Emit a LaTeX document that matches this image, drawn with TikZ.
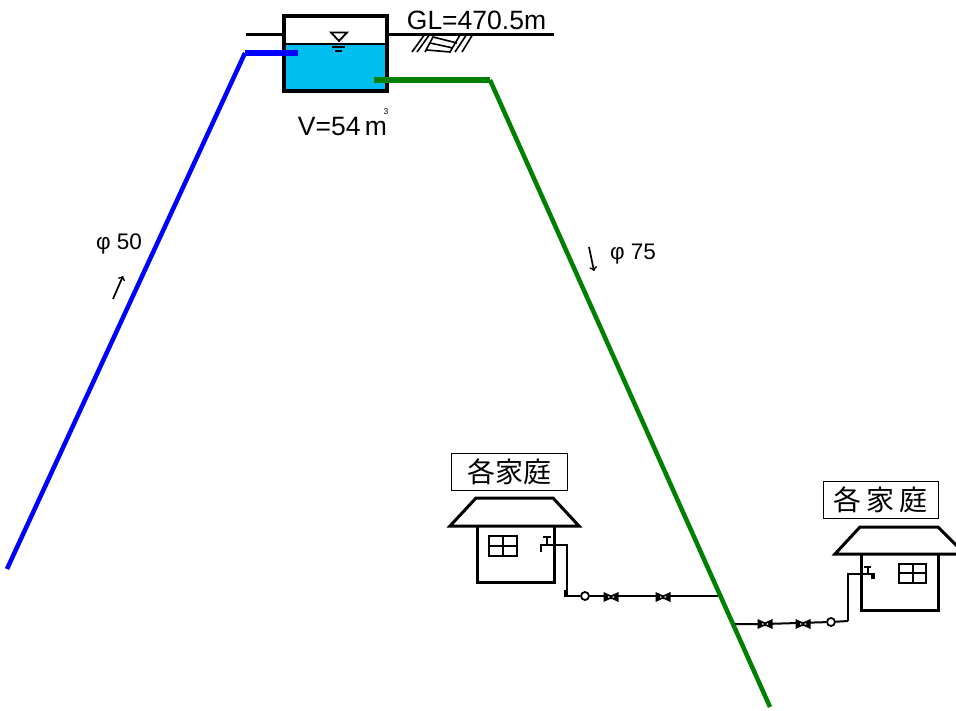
\documentclass[tikz,border=0pt]{standalone}
\usepackage{fontspec}
\setmainfont{Liberation Sans}
\newfontfamily\cjkfont{Noto Sans CJK JP}
\definecolor{agua}{HTML}{00BFF0}
\definecolor{tuboverde}{HTML}{008000}
\tikzset{
  muro/.style={draw, line width=3pt},
  tubo/.style={draw, line width=2.6pt},
  linea/.style={draw, line width=2pt},
  tuboazul/.style={draw=blue, line width=4.5pt},
  tuboazulh/.style={draw=blue, line width=6pt},
  tubov/.style={draw=tuboverde, line width=4.5pt},
  tubovh/.style={draw=tuboverde, line width=6pt},
  rotulo/.style={draw, line width=1pt, font=\cjkfont\fontsize{28}{28}\selectfont, inner sep=0pt},
  flecha/.style={draw, line width=1.7pt, -to},
  cota/.style={inner sep=0pt, font=\fontsize{26.5}{26.5}\selectfont},
  diam/.style={inner sep=0pt, font=\fontsize{22.5}{22.5}\selectfont},
  medidor/.style={circle, draw, line width=1.8pt, fill=white, inner sep=0pt, minimum size=8pt},
  valvula/.pic={\fill (-7.5,-5) -- (-1,-2) -- (1,-2) -- (7.5,-5) -- (7.5,5) -- (1,2) -- (-1,2) -- (-7.5,5) -- cycle;
    \fill[white] (-3,-0.8) -- (-0.8,0) -- (-3,0.8) -- cycle (3,-0.8) -- (0.8,0) -- (3,0.8) -- cycle;},
}
\begin{document}
\begin{tikzpicture}[x=1pt,y=-1pt]
  \useasboundingbox (0,0) rectangle (956,711);
  % tanque
  \fill[agua] (284,44) rectangle (387,91);
  \draw[muro] (246,35) -- (284,35) (387,35) -- (554,35);
  \draw[line width=1.6pt] (412,52) -- (425,34) (417,52) -- (430,34) (425,52) -- (433,37) -- (457,43)
    (430,43) -- (453,48) (427,50) -- (450,52) -- (460,35) (455,52) -- (467,34) (462,52) -- (473,34);
  \draw[line width=2.5pt] (284,44) -- (387,44);
  \draw[muro,line width=3.5pt] (284,16) rectangle (387,91);
  \draw[line width=1.8pt] (331,32.5) -- (347,32.5) -- (339,41) -- cycle;
  \draw[line width=2pt] (332,47) -- (345,47) (335,51) -- (342,51);
  \node[cota] (gl) at (476.5,20) {GL=470.5m};
  \node[cota] (vol) at (342.5,127) {V=54\,m};
  \node[inner sep=0pt, font=\fontsize{8.5}{8.5}\selectfont] (cubo) at (386,111.5) {3};
  % tuberias
  \coordinate (a0) at (7,569);
  \coordinate (a1) at (245,53);
  \coordinate (a2) at (298,53);
  \coordinate (v0) at (374,80);
  \coordinate (v1) at (490,80);
  \coordinate (v2) at (770,707);
  \draw[tuboazul] (a0) -- (a1);
  \draw[tuboazulh] (a1) -- (a2);
  \draw[tubov] (v1) -- (v2);
  \draw[tubovh] (v0) -- (v1);
  \node[diam] (d50) at (119,244) {φ 50};
  \node[diam] (d75) at (633,254) {φ 75};
  \draw[flecha] (113,299) -- (123,276);
  \draw[flecha] (589,247) -- (594,271);
  % casa izquierda
  \node[rotulo, minimum width=116pt, minimum height=37pt] (rot1) at (509,471.5) {各家庭};
  \draw[muro] (476,498) -- (553,498) -- (579,526) -- (450,526) -- cycle;
  \draw[muro] (477,526) -- (477,582) -- (554,582) -- (554,526);
  \draw[line width=2.6pt] (489,536) rectangle (517,556) (503,536) -- (503,556) (489,546) -- (517,546);
  \draw[tubo] (543,537) -- (551,537) (547,537) -- (547,545) (541,552) -- (541,545) -- (567,545) -- (567,596) (565,590) -- (565,597);
  \coordinate (p0) at (565,596);
  \coordinate (p1) at (718,596);
  \node[medidor] (m1) at (585,596) {};
  \draw[linea] (p0) -- (m1) -- (p1);
  \foreach \x in {611,663} \pic at (\x,597) {valvula};
  % casa derecha
  \node[rotulo, minimum width=115pt, minimum height=37pt] (rot2) at (880.5,499.5) {各\hspace{5pt}家\hspace{5pt}庭};
  \draw[muro] (860,527) -- (938,527) -- (965,554) -- (835,554) -- cycle;
  \draw[muro] (861,554) -- (861,610) -- (938,610) -- (938,554);
  \draw[line width=2.6pt] (899,564) rectangle (926,583) (913,564) -- (913,583) (899,573) -- (926,573);
  \draw[tubo] (864,567) -- (871,567) (868,567) -- (868,574) (848,621) -- (848,574) -- (873,574);
  \draw[line width=3.5pt] (873,573) -- (873,579);
  \coordinate (q0) at (735,624);
  \coordinate (q1) at (848,621);
  \node[medidor] (m2) at (831,622) {};
  \draw[linea] (q0) -- (765,624) -- (m2) -- (q1);
  \foreach \x in {765,803} \pic at (\x,624) {valvula};
\end{tikzpicture}
\end{document}
